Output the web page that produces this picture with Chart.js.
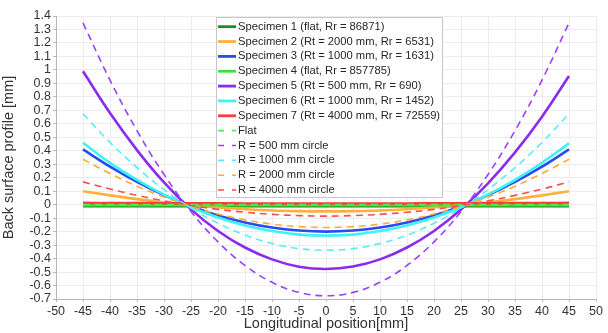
<!DOCTYPE html>
<html>
<head>
<meta charset="utf-8">
<script src="https://cdn.jsdelivr.net/npm/chart.js@4.4.1/dist/chart.umd.min.js"></script>
<style>
  html, body { margin: 0; padding: 0; background: #fff; }
  #wrap { width: 608px; height: 333px; position: relative; }
</style>
</head>
<body>
<div id="wrap"><canvas id="c"></canvas></div>
<script>
// longitudinal positions [mm]
var xPos = [-45, -40, -35, -30, -25, -20, -15, -10, -5, 0, 5, 10, 15, 20, 25, 30, 35, 40, 45];

// measured specimens (back surface profile, mm)
var spec1 = [-0.011, -0.011, -0.011, -0.011, -0.011, -0.011, -0.011, -0.011, -0.011, -0.011, -0.011, -0.011, -0.011, -0.011, -0.011, -0.011, -0.011, -0.011, -0.011];
var spec2 = [0.1, 0.069, 0.041, 0.017, -0.004, -0.02, -0.033, -0.043, -0.048, -0.05, -0.048, -0.043, -0.033, -0.02, -0.004, 0.017, 0.041, 0.069, 0.1];
var spec3 = [0.41, 0.282, 0.169, 0.071, -0.012, -0.08, -0.132, -0.17, -0.192, -0.2, -0.192, -0.17, -0.132, -0.08, -0.012, 0.071, 0.169, 0.282, 0.41];
var spec4 = [-0.004, -0.004, -0.004, -0.004, -0.004, -0.004, -0.004, -0.004, -0.004, -0.004, -0.004, -0.004, -0.004, -0.004, -0.004, -0.004, -0.004, -0.004, -0.004];
var spec5 = [0.99, 0.68, 0.405, 0.165, -0.035, -0.195, -0.318, -0.406, -0.46, -0.477, -0.459, -0.406, -0.318, -0.195, -0.036, 0.158, 0.388, 0.653, 0.955];
var spec6 = [0.46, 0.31, 0.184, 0.074, -0.019, -0.095, -0.154, -0.196, -0.222, -0.23, -0.222, -0.196, -0.154, -0.095, -0.019, 0.074, 0.184, 0.311, 0.455];
var spec7 = [0.013, 0.012, 0.012, 0.011, 0.01, 0.01, 0.009, 0.009, 0.009, 0.009, 0.009, 0.009, 0.009, 0.01, 0.01, 0.011, 0.012, 0.012, 0.013];

// reference shapes
var flat  = [0, 0, 0, 0, 0, 0, 0, 0, 0, 0, 0, 0, 0, 0, 0, 0, 0, 0, 0];
var r500  = [1.349, 0.924, 0.549, 0.224, -0.051, -0.276, -0.451, -0.576, -0.651, -0.676, -0.651, -0.576, -0.451, -0.276, -0.051, 0.224, 0.549, 0.924, 1.349];
var r1000 = [0.675, 0.462, 0.275, 0.112, -0.026, -0.138, -0.226, -0.288, -0.326, -0.338, -0.326, -0.288, -0.226, -0.138, -0.026, 0.112, 0.275, 0.462, 0.675];
var r2000 = [0.337, 0.231, 0.137, 0.056, -0.013, -0.069, -0.113, -0.144, -0.163, -0.169, -0.163, -0.144, -0.113, -0.069, -0.013, 0.056, 0.137, 0.231, 0.337];
var r4000 = [0.169, 0.116, 0.069, 0.028, -0.006, -0.035, -0.056, -0.072, -0.081, -0.085, -0.081, -0.072, -0.056, -0.035, -0.006, 0.028, 0.069, 0.116, 0.169];

var labels = [
  "Specimen 1 (flat, Rr = 86871)",
  "Specimen 2 (Rt = 2000 mm, Rr = 6531)",
  "Specimen 3 (Rt = 1000 mm, Rr = 1631)",
  "Specimen 4 (flat, Rr = 857785)",
  "Specimen 5 (Rt = 500 mm, Rr = 690)",
  "Specimen 6 (Rt = 1000 mm, Rr = 1452)",
  "Specimen 7 (Rt = 4000 mm, Rr = 72559)",
  "Flat",
  "R = 500 mm circle",
  "R = 1000 mm circle",
  "R = 2000 mm circle",
  "R = 4000 mm circle"
];
var series = [spec1, spec2, spec3, spec4, spec5, spec6, spec7, flat, r500, r1000, r2000, r4000];
var colors = ["#1f8a1f", "#ffb03a", "#2b4bf2", "#3ee03e", "#8a2cf0", "#3ff2f8", "#ff3b3b",
              "#4cf04c", "#9b40ff", "#5ceaf8", "#ffab2e", "#ff4d4d"];
var dashed = [false, false, false, false, false, false, false, true, true, true, true, true];

var FONT = "'Liberation Sans', Arial, sans-serif";

var datasets = series.map(function(s, i) {
  return {
    label: labels[i],
    data: s.map(function(v, j) { return { x: xPos[j], y: v }; }),
    borderColor: colors[i],
    backgroundColor: colors[i],
    borderWidth: dashed[i] ? 1.6 : 2.6,
    borderDash: dashed[i] ? [7, 5] : [],
    pointRadius: 0,
    tension: 0.4,
    fill: false,
    order: -i
  };
});

// legend box drawn over the plot, top-centre
var legendBox = {
  id: "legendBox",
  afterDraw: function(chart) {
    var ctx = chart.ctx;
    var x0 = 216.5, y0 = 17.5, w = 226, h = 180, row = 14.85;
    ctx.save();
    ctx.fillStyle = "#ffffff";
    ctx.fillRect(x0, y0, w, h);
    ctx.strokeStyle = "#c8c8c8";
    ctx.lineWidth = 1;
    ctx.strokeRect(x0, y0, w, h);
    ctx.font = "11.2px " + FONT;
    ctx.textBaseline = "middle";
    chart.data.datasets.forEach(function(d, i) {
      var y = 26.7 + i * row;
      ctx.beginPath();
      ctx.strokeStyle = d.borderColor;
      if (dashed[i]) {
        ctx.lineWidth = 1.6;
        ctx.setLineDash([6, 8]);
      } else {
        ctx.lineWidth = 2.8;
        ctx.setLineDash([]);
      }
      ctx.moveTo(218, y);
      ctx.lineTo(236, y);
      ctx.stroke();
      ctx.setLineDash([]);
      ctx.fillStyle = "#262626";
      ctx.fillText(d.label, 238, y);
    });
    ctx.restore();
  }
};

new Chart(document.getElementById("c"), {
  type: "line",
  data: { datasets: datasets },
  plugins: [legendBox],
  options: {
    responsive: true,
    maintainAspectRatio: false,
    animation: false,
    layout: { padding: { top: 16, right: 12, left: 0, bottom: 0 } },
    plugins: { legend: { display: false }, tooltip: { enabled: false } },
    scales: {
      x: {
        type: "linear",
        min: -50, max: 50,
        ticks: { stepSize: 5, color: "#333", font: { size: 12.5, family: FONT }, padding: 2, maxRotation: 0, autoSkip: false },
        grid: { color: "#ececec", tickLength: 3, tickColor: "#bbb" },
        border: { color: "#b5b5b5" },
        title: { display: true, text: "Longitudinal position[mm]", color: "#333", font: { size: 14.5, family: FONT }, padding: { top: 3, bottom: 0 } },
        afterFit: function(s) { s.height = 34; }
      },
      y: {
        min: -0.7, max: 1.4,
        ticks: {
          stepSize: 0.1, color: "#333", font: { size: 12.5, family: FONT }, padding: 2, autoSkip: false,
          callback: function(v) { return Math.round(v * 10) / 10; }
        },
        grid: { color: "#ececec", tickLength: 3, tickColor: "#bbb" },
        border: { color: "#b5b5b5" },
        title: { display: true, text: "Back surface profile [mm]", color: "#333", font: { size: 14.5, family: FONT }, padding: 0 },
        afterFit: function(s) { s.width = 56; }
      }
    }
  }
});
</script>
</body>
</html>
